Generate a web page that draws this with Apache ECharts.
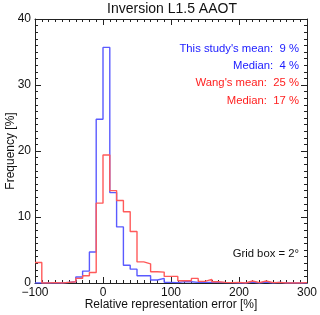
<!DOCTYPE html>
<html>
<head>
<meta charset="utf-8">
<script src="https://cdn.jsdelivr.net/npm/echarts@6/dist/echarts.min.js"></script>
<style>html,body{margin:0;padding:0;background:#fff;}#c{width:320px;height:315px;}</style>
</head>
<body>
<div id="c"></div>
<script>
const binStart = [-100,-90,-80,-70,-60,-50,-40,-30,-20,-10,0,10,20,30,40,50,60,70,80,90,100,110,120,130,140,150,160,170,180,190,200,210,220,230,240,250,260,270,280,290,300];
const thisStudy = [0,0,0,0,0.1,0.2,0.9,1.8,4.7,24.8,35.7,13.7,8.5,2.7,2.1,1.1,1.1,0.45,0.7,0.1,0.05,0.2,0.2,0.1,0.1,0.1,0.1,0.05,0.05,0,0,0.15,0,0.15,0,0.1,0,0,0,0,0];
const wang = [3.1,0,0.05,0,0.1,0.2,0.7,1.1,1.6,12.1,19.4,14.0,12.5,10.8,7.8,3.2,2.9,1.7,1.65,1.0,1.0,0.35,0.35,0.7,0.25,0.55,0.2,0.1,0.05,0.1,0,0.3,0.05,0.3,0.05,0.1,0,0,0,0.05,0];
const xTicks = [-100,0,100,200,300];
const yTicks = [0,10,20,30,40];
const xName = 'Relative representation error [%]';
const yName = 'Frequency [%]';
const notes = ["This study's mean:  9 %","Median:  4 %","Wang's mean:  25 %","Median:  17 %"];
const gridNote = "Grid box = 2°";

const FF = "'Liberation Sans', Arial, Helvetica, sans-serif";
const pts = arr => binStart.map((x,i)=>[x, arr[i]]);
const tickCommon = () => ({
  axisLine:{show:true,onZero:false,lineStyle:{color:'#222',width:1}},
  axisTick:{show:true,inside:true,length:6,lineStyle:{color:'#222'}},
  minorTick:{show:true,splitNumber:10,length:3,lineStyle:{color:'#222'}},
  splitLine:{show:false}
});
const chart = echarts.init(document.getElementById('c'));
chart.setOption({
  animation:false,
  backgroundColor:'#fff',
  title:{text:'Inversion L1.5 AAOT',left:172,top:2,padding:0,textAlign:'center',textStyle:{fontFamily:FF,fontSize:14,fontWeight:'normal',color:'#111'}},
  grid:{left:35,right:13,top:19,bottom:32,containLabel:false,outerBoundsMode:'none'},
  xAxis:[
    Object.assign({type:'value',min:-100,max:300,interval:100,position:'bottom',
      axisLabel:{fontFamily:FF,fontSize:12,color:'#111',margin:4,
        formatter:v=>xTicks.includes(v)?String(v).replace('-','\u2212'):''}},tickCommon()),
    Object.assign({type:'value',min:-100,max:300,interval:100,position:'top',axisLabel:{show:false}},tickCommon())
  ],
  yAxis:[
    Object.assign({type:'value',min:0,max:40,interval:10,position:'left',
      axisLabel:{fontFamily:FF,fontSize:12,color:'#111',margin:4,
        formatter:v=>yTicks.includes(v)?String(v):''}},tickCommon()),
    Object.assign({type:'value',min:0,max:40,interval:10,position:'right',axisLabel:{show:false}},tickCommon())
  ],
  series:[
    {type:'line',step:'end',data:pts(thisStudy),symbol:'none',lineStyle:{color:'#5a5aff',width:1.4},z:3},
    {type:'line',step:'end',data:pts(wang),symbol:'none',lineStyle:{color:'#ff5a5a',width:1.4},z:4}
  ],
  graphic:[
    {type:'text',x:171,y:305,style:{text:xName,fill:'#111',font:'12px '+FF,align:'center',verticalAlign:'middle'}},
    {type:'text',x:11,y:151,rotation:Math.PI/2,style:{text:yName,fill:'#111',font:'12px '+FF,align:'center',verticalAlign:'middle'}},
    {type:'text',right:21,top:43,style:{text:notes[0],fill:'#1a1aff',font:'11.3px '+FF,textAlign:'right'}},
    {type:'text',right:21,top:60,style:{text:notes[1],fill:'#1a1aff',font:'11.3px '+FF,textAlign:'right'}},
    {type:'text',right:21,top:77,style:{text:notes[2],fill:'#ff2020',font:'11.3px '+FF,textAlign:'right'}},
    {type:'text',right:21,top:95,style:{text:notes[3],fill:'#ff2020',font:'11.3px '+FF,textAlign:'right'}},
    {type:'text',right:21,top:248,style:{text:gridNote,fill:'#111',font:'11.3px '+FF,textAlign:'right'}}
  ]
});
</script>
</body>
</html>
